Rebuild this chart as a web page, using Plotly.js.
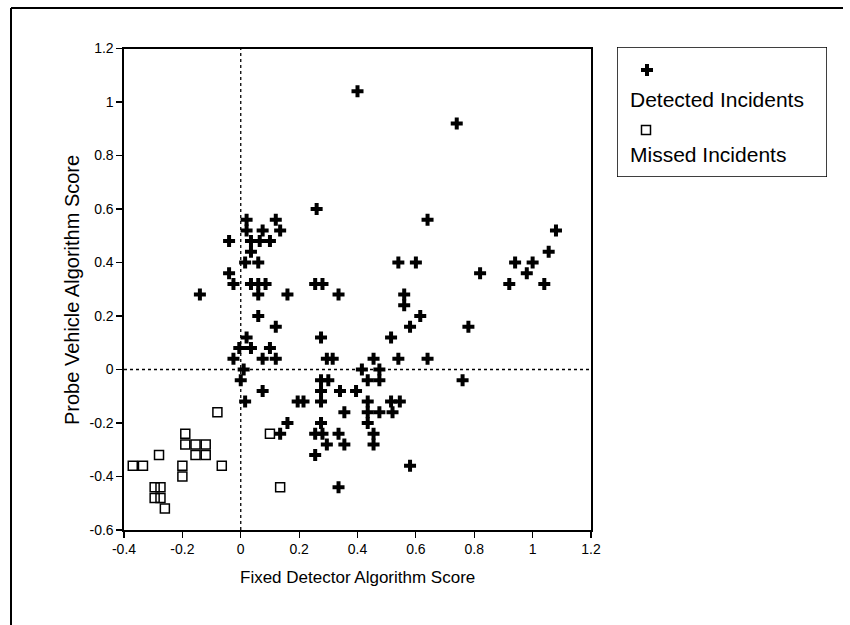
<!DOCTYPE html>
<html>
<head>
<meta charset="utf-8">
<script src="https://cdn.plot.ly/plotly-3.0.1.min.js"></script>
<style>
  html, body { margin: 0; padding: 0; background: #ffffff; }
  #chart { width: 850px; height: 625px; }
</style>
</head>
<body>
<div id="chart"></div>
<script>
// ---- Data ----
const detectedX = [
  0.40, 0.74, 0.26, 0.64, 1.08,
  0.02, 0.12, 0.02, 0.075, 0.135,
  -0.04, 0.035, 0.065, 0.10, 0.035,
  0.015, 0.06, 1.055, 0.54, 0.60,
  0.94, 1.00, -0.04, 0.82, 0.98,
  -0.025, 0.035, 0.06, 0.085, 0.255,
  0.28, 0.92, 1.04, -0.14, 0.06,
  0.16, 0.335, 0.56, 0.56, 0.06,
  0.615, 0.12, 0.58, 0.78, 0.02,
  0.275, 0.515, -0.005, 0.035, 0.10,
  -0.025, 0.075, 0.12, 0.295, 0.315,
  0.455, 0.54, 0.64, 0.01, 0.415,
  0.475, 0.0, 0.275, 0.30, 0.435,
  0.475, 0.76, 0.075, 0.275, 0.34,
  0.395, 0.015, 0.195, 0.215, 0.275,
  0.435, 0.515, 0.545, 0.355, 0.435,
  0.475, 0.52, 0.16, 0.275, 0.435,
  0.135, 0.255, 0.28, 0.335, 0.455,
  0.295, 0.355, 0.455, 0.255, 0.58,
  0.335
];
const detectedY = [
  1.04, 0.92, 0.60, 0.56, 0.52,
  0.56, 0.56, 0.52, 0.52, 0.52,
  0.48, 0.48, 0.48, 0.48, 0.44,
  0.40, 0.40, 0.44, 0.40, 0.40,
  0.40, 0.40, 0.36, 0.36, 0.36,
  0.32, 0.32, 0.32, 0.32, 0.32,
  0.32, 0.32, 0.32, 0.28, 0.28,
  0.28, 0.28, 0.28, 0.24, 0.20,
  0.20, 0.16, 0.16, 0.16, 0.12,
  0.12, 0.12, 0.08, 0.08, 0.08,
  0.04, 0.04, 0.04, 0.04, 0.04,
  0.04, 0.04, 0.04, 0.00, 0.00,
  0.00, -0.04, -0.04, -0.04, -0.04,
  -0.04, -0.04, -0.08, -0.08, -0.08,
  -0.08, -0.12, -0.12, -0.12, -0.12,
  -0.12, -0.12, -0.12, -0.16, -0.16,
  -0.16, -0.16, -0.20, -0.20, -0.20,
  -0.24, -0.24, -0.24, -0.24, -0.24,
  -0.28, -0.28, -0.28, -0.32, -0.36,
  -0.44
];
const missedX = [
  -0.08, -0.19, -0.19, -0.155, -0.12,
  -0.155, -0.12, -0.28, -0.37, -0.335,
  -0.20, -0.065, -0.20, -0.295, -0.275,
  -0.295, -0.275, -0.26, 0.10, 0.135
];
const missedY = [
  -0.16, -0.24, -0.28, -0.28, -0.28,
  -0.32, -0.32, -0.32, -0.36, -0.36,
  -0.36, -0.36, -0.40, -0.44, -0.44,
  -0.48, -0.48, -0.52, -0.24, -0.44
];
const seriesNames = ['Detected Incidents', 'Missed Incidents'];
const xTickVals = [-0.4, -0.2, 0, 0.2, 0.4, 0.6, 0.8, 1, 1.2];
const xTickText = ['-0.4', '-0.2', '0', '0.2', '0.4', '0.6', '0.8', '1', '1.2'];
const yTickVals = [-0.6, -0.4, -0.2, 0, 0.2, 0.4, 0.6, 0.8, 1, 1.2];
const yTickText = ['-0.6', '-0.4', '-0.2', '0', '0.2', '0.4', '0.6', '0.8', '1', '1.2'];
const xTitle = 'Fixed Detector Algorithm Score';
const yTitle = 'Probe Vehicle Algorithm Score';

// ---- Geometry (pixels) ----
const W = 850, H = 625;
const M = { l: 124, r: 20, t: 40, b: 95 };
const PW = W - M.l - M.r, PH = H - M.t - M.b;
const px2x = p => (p - M.l) / PW;            // pixel x -> paper
const py2y = p => (H - M.b - p) / PH;        // pixel y -> paper

const FONT = 'Liberation Sans, Arial, Helvetica, sans-serif';
const crossMarker = { symbol: 'cross', size: 10, color: '#000', line: { width: 0 } };
const squareMarker = { symbol: 'square-open', size: 9, color: '#000', line: { width: 1.5, color: '#000' } };

const traces = [
  { type: 'scatter', mode: 'markers', name: seriesNames[0], x: detectedX, y: detectedY,
    marker: crossMarker, xaxis: 'x', yaxis: 'y', hoverinfo: 'skip', cliponaxis: false },
  { type: 'scatter', mode: 'markers', name: seriesNames[1], x: missedX, y: missedY,
    marker: squareMarker, xaxis: 'x', yaxis: 'y', hoverinfo: 'skip', cliponaxis: false },
  // legend samples on a helper axis placed over the legend box (pixel-like coordinates)
  { type: 'scatter', mode: 'markers', x: [647], y: [70], marker: crossMarker,
    xaxis: 'x2', yaxis: 'y2', hoverinfo: 'skip', showlegend: false },
  { type: 'scatter', mode: 'markers', x: [646], y: [130], marker: squareMarker,
    xaxis: 'x2', yaxis: 'y2', hoverinfo: 'skip', showlegend: false }
];

const axisCommon = {
  showline: true, mirror: true, linecolor: '#000', linewidth: 1.6,
  ticks: 'outside', ticklen: 6, tickwidth: 1.2, tickcolor: '#000',
  showgrid: false, zeroline: false, fixedrange: true,
  tickfont: { family: FONT, size: 14, color: '#000' }
};

const layout = {
  width: W, height: H,
  margin: { l: M.l, r: M.r, t: M.t, b: M.b, pad: 0 },
  paper_bgcolor: '#fff', plot_bgcolor: '#fff',
  showlegend: false,
  font: { family: FONT, color: '#000' },
  xaxis: Object.assign({}, axisCommon, {
    domain: [0, px2x(591)], range: [-0.4, 1.2],
    tickmode: 'array', tickvals: xTickVals, ticktext: xTickText, anchor: 'y'
  }),
  yaxis: Object.assign({}, axisCommon, {
    domain: [0, py2y(48.5)], range: [-0.6, 1.2],
    tickmode: 'array', tickvals: yTickVals, ticktext: yTickText, anchor: 'x'
  }),
  xaxis2: { domain: [px2x(617), px2x(827)], range: [617, 827], visible: false, fixedrange: true, anchor: 'y2' },
  yaxis2: { domain: [py2y(177), py2y(47)], range: [177, 47], visible: false, fixedrange: true, anchor: 'x2' },
  shapes: [
    // dotted zero reference lines
    { type: 'line', xref: 'x', yref: 'y', x0: 0, x1: 0, y0: -0.6, y1: 1.2,
      line: { color: '#000', width: 1.3, dash: 'dot' } },
    { type: 'line', xref: 'x', yref: 'y', x0: -0.4, x1: 1.2, y0: 0, y1: 0,
      line: { color: '#000', width: 1.3, dash: 'dot' } },
    // legend box
    { type: 'rect', xref: 'x2', yref: 'y2', x0: 617, x1: 827, y0: 47, y1: 177,
      line: { color: '#000', width: 1.5 }, fillcolor: 'rgba(0,0,0,0)' },
    // page frame (top and left)
    { type: 'line', xref: 'paper', yref: 'paper', x0: px2x(11), x1: px2x(843), y0: py2y(8), y1: py2y(8),
      line: { color: '#000', width: 2 } },
    { type: 'line', xref: 'paper', yref: 'paper', x0: px2x(11), x1: px2x(11), y0: py2y(8), y1: py2y(625),
      line: { color: '#000', width: 2 } }
  ],
  annotations: [
    { xref: 'paper', yref: 'paper', x: px2x(357), y: py2y(577), xanchor: 'center', yanchor: 'middle',
      text: xTitle, showarrow: false, font: { family: FONT, size: 17, color: '#000' } },
    { xref: 'paper', yref: 'paper', x: px2x(72), y: py2y(290), xanchor: 'center', yanchor: 'middle',
      text: yTitle, textangle: -90, showarrow: false, font: { family: FONT, size: 20, color: '#000' } },
    { xref: 'x2', yref: 'y2', x: 628, y: 100, xanchor: 'left', yanchor: 'middle',
      text: seriesNames[0], showarrow: false, font: { family: FONT, size: 21, color: '#000' } },
    { xref: 'x2', yref: 'y2', x: 628, y: 155, xanchor: 'left', yanchor: 'middle',
      text: seriesNames[1], showarrow: false, font: { family: FONT, size: 21, color: '#000' } }
  ]
};

Plotly.newPlot('chart', traces, layout, { staticPlot: true, displayModeBar: false });
</script>
</body>
</html>
